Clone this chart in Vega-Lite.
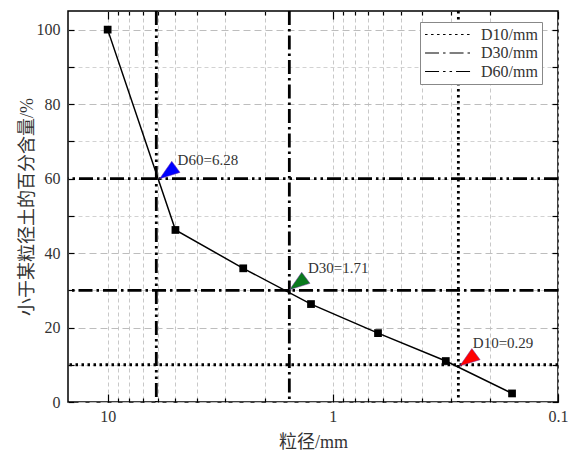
{
  "$schema": "https://vega.github.io/schema/vega-lite/v6.json",
  "width": 490,
  "height": 391,
  "autosize": "none",
  "padding": {"left": 68, "top": 11, "right": 11, "bottom": 53},
  "config": {
    "view": {"stroke": "black", "strokeWidth": 1.5},
    "font": "Liberation Serif, Noto Sans CJK SC",
    "axis": {
      "labelFont": "Liberation Serif",
      "labelFontSize": 16,
      "labelColor": "#333",
      "titleFont": "Liberation Serif, Noto Sans CJK SC",
      "titleFontSize": 18,
      "titleFontWeight": "normal",
      "titleColor": "#333",
      "tickColor": "black",
      "tickWidth": 1.2,
      "domain": false
    }
  },
  "datasets": {
    "pts": [
      {"d": 10, "p": 100},
      {"d": 5, "p": 46.2},
      {"d": 2.5, "p": 35.9},
      {"d": 1.25, "p": 26.3},
      {"d": 0.63, "p": 18.5},
      {"d": 0.315, "p": 11.0},
      {"d": 0.16, "p": 2.3}
    ],
    "refs": [
      {"name": "D10/mm", "d": 0.277, "p": 10},
      {"name": "D30/mm", "d": 1.56, "p": 30},
      {"name": "D60/mm", "d": 6.08, "p": 60}
    ],
    "ann": [
      {"k": "D60", "tri_d": 5.25, "tri_p": 62.1, "txt_d": 4.89, "txt_p": 65.1, "label": "D60=6.28"},
      {"k": "D30", "tri_d": 1.39, "tri_p": 32.3, "txt_d": 1.29, "txt_p": 36.0, "label": "D30=1.71"},
      {"k": "D10", "tri_d": 0.244, "tri_p": 11.8, "txt_d": 0.239, "txt_p": 15.9, "label": "D10=0.29"}
    ]
  },
  "resolve": {"axis": {"x": "independent", "y": "independent"}},
  "layer": [
    {
      "data": {"name": "pts"},
      "mark": {"type": "point", "opacity": 0},
      "encoding": {
        "x": {
          "field": "d", "type": "quantitative",
          "scale": {"type": "log", "domain": [0.1, 15], "reverse": true, "nice": false},
          "axis": {
            "orient": "bottom",
            "title": "粒径/mm",
            "values": [0.1, 0.2, 0.3, 0.4, 0.5, 0.6, 0.7, 0.8, 0.9, 1, 2, 3, 4, 5, 6, 7, 8, 9, 10],
            "labelExpr": "datum.value == 10 ? '10' : datum.value == 1 ? '1' : datum.value == 0.1 ? '0.1' : ''",
            "labelOverlap": false,
            "labelFlush": false,
            "tickSize": {"condition": {"test": "datum.value == 10 || datum.value == 1 || datum.value == 0.1", "value": -8}, "value": -4},
            "labelPadding": 14,
            "titlePadding": 5,
            "grid": true,
            "gridColor": "#c8c8c8",
            "gridDash": [4, 3],
            "gridWidth": 1
          }
        },
        "y": {
          "field": "p", "type": "quantitative",
          "scale": {"domain": [0, 105], "nice": false},
          "axis": {
            "orient": "left",
            "title": "小于某粒径土的百分含量/%",
            "values": [0, 10, 20, 30, 40, 50, 60, 70, 80, 90, 100],
            "labelExpr": "datum.value % 20 == 0 ? datum.label : ''",
            "labelOverlap": false,
            "labelFlush": false,
            "tickSize": -6,
            "labelPadding": 14,
            "titlePadding": 0,
            "grid": true,
            "gridColor": {"condition": {"test": "datum.value % 20 == 0", "value": "#bdbdbd"}, "value": "#d2d2d2"},
            "gridDash": {"condition": {"test": "datum.value % 20 == 0", "value": [7, 4]}, "value": [4, 3]},
            "gridWidth": 1
          }
        }
      }
    },
    {
      "data": {"name": "pts"},
      "mark": {"type": "point", "opacity": 0},
      "encoding": {
        "x": {
          "field": "d", "type": "quantitative",
          "axis": {
            "orient": "top",
            "title": null,
            "labels": false,
            "grid": false,
            "values": [0.1, 0.2, 0.3, 0.4, 0.5, 0.6, 0.7, 0.8, 0.9, 1, 2, 3, 4, 5, 6, 7, 8, 9, 10],
            "tickSize": {"condition": {"test": "datum.value == 10 || datum.value == 1 || datum.value == 0.1", "value": -8}, "value": -4}
          }
        },
        "y": {
          "field": "p", "type": "quantitative",
          "axis": {
            "orient": "right",
            "title": null,
            "labels": false,
            "grid": false,
            "values": [0, 10, 20, 30, 40, 50, 60, 70, 80, 90, 100],
            "tickSize": -6
          }
        }
      }
    },
    {
      "data": {"name": "refs"},
      "mark": {"type": "rule", "color": "black", "strokeWidth": 2.8},
      "encoding": {
        "y": {"field": "p", "type": "quantitative", "axis": null},
        "strokeDash": {
          "field": "name", "type": "nominal",
          "scale": {"domain": ["D10/mm", "D30/mm", "D60/mm"], "range": [[2.5, 3.5], [14, 4, 2.5, 4], [14, 4, 2.5, 4, 2.5, 4]]},
          "legend": {
            "title": null,
            "orient": "none",
            "legendX": 352,
            "legendY": 11,
            "direction": "vertical",
            "symbolType": "stroke",
            "symbolSize": 2200,
            "clipHeight": 17,
            "symbolStrokeWidth": 1.2,
            "symbolStrokeColor": "black",
            "labelFont": "Liberation Serif",
            "labelFontSize": 16,
            "labelColor": "#333",
            "labelOffset": 8,
            "padding": 4,
            "rowPadding": 1.5,
            "strokeColor": "#888",
            "fillColor": "white",
            "cornerRadius": 0
          }
        }
      }
    },
    {
      "data": {"name": "refs"},
      "mark": {"type": "rule", "color": "black", "strokeWidth": 2.8},
      "encoding": {
        "x": {"field": "d", "type": "quantitative", "axis": null},
        "strokeDash": {"field": "name", "type": "nominal"}
      }
    },
    {
      "data": {"name": "pts"},
      "mark": {"type": "line", "color": "black", "strokeWidth": 1.5},
      "encoding": {
        "x": {"field": "d", "type": "quantitative", "axis": null},
        "y": {"field": "p", "type": "quantitative", "axis": null}
      }
    },
    {
      "data": {"name": "pts"},
      "mark": {"type": "point", "shape": "square", "filled": true, "color": "black", "size": 60, "opacity": 1},
      "encoding": {
        "x": {"field": "d", "type": "quantitative", "axis": null},
        "y": {"field": "p", "type": "quantitative", "axis": null}
      }
    },
    {
      "data": {"name": "ann"},
      "mark": {"type": "point", "shape": "M-1,0.72L0.1,-0.86L0.85,0.15Z", "filled": true, "size": 484, "opacity": 1, "stroke": "#7030a0", "strokeWidth": 0.5},
      "encoding": {
        "x": {"field": "tri_d", "type": "quantitative", "axis": null},
        "y": {"field": "tri_p", "type": "quantitative", "axis": null},
        "fill": {"field": "k", "type": "nominal", "scale": {"domain": ["D60", "D30", "D10"], "range": ["#0000ff", "#0a7a1e", "#ff0000"]}, "legend": null}
      }
    },
    {
      "data": {"name": "ann"},
      "mark": {"type": "text", "align": "left", "baseline": "middle", "font": "Liberation Serif", "fontSize": 15, "color": "#333"},
      "encoding": {
        "x": {"field": "txt_d", "type": "quantitative", "axis": null},
        "y": {"field": "txt_p", "type": "quantitative", "axis": null},
        "text": {"field": "label"}
      }
    }
  ]
}
